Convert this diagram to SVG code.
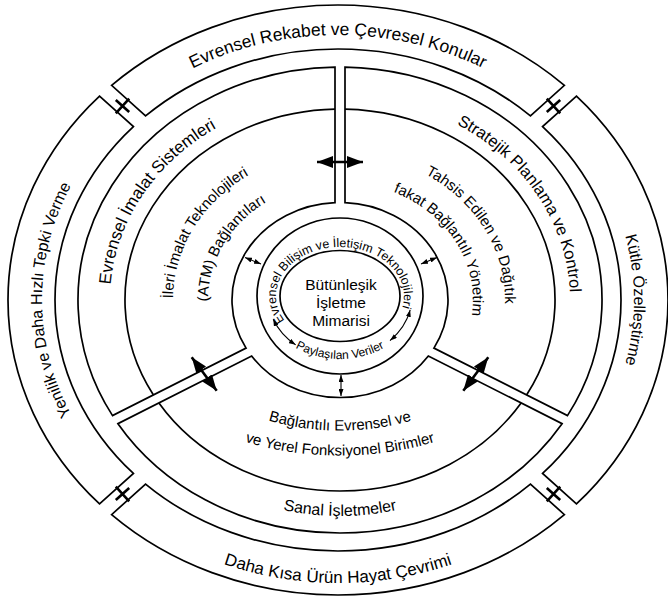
<svg xmlns="http://www.w3.org/2000/svg" width="668" height="601" viewBox="0 0 668 601">
<style>
.ln{fill:none;stroke:#000;stroke-width:1.7}
.seg{fill:#fff;stroke:#000;stroke-width:1.7;stroke-linejoin:miter}
.t{font-family:"Liberation Sans",Arial,sans-serif;fill:#000}
.plus{stroke:#000;stroke-width:2.6;fill:none}
.big{stroke:#000;stroke-width:2.6;fill:none;marker-start:url(#bh);marker-end:url(#bh)}
.sm{stroke:#000;stroke-width:1.1;fill:none;marker-start:url(#sh);marker-end:url(#sh)}
</style>
<defs>
<marker id="bh" markerUnits="userSpaceOnUse" markerWidth="16" markerHeight="12" refX="16" refY="6" orient="auto-start-reverse"><path d="M0,0 L16,6 L0,12 Z" fill="#000"/></marker>
<marker id="sh" markerUnits="userSpaceOnUse" markerWidth="7" markerHeight="5" refX="7" refY="2.5" orient="auto-start-reverse"><path d="M0,0 L7,2.5 L0,5 Z" fill="#000"/></marker>
<path id="pA_top" d="M126.6,112.6 A299,265 0 0 1 549.4,112.6"/>
<path id="pA_left" d="M128.7,486.7 A296,264 0 0 1 128.7,113.3"/>
<path id="pA_right" d="M547.3,113.3 A296,264 0 0 1 547.3,486.7"/>
<path id="pA_bot" d="M113.8,500.1 A317,283 0 0 0 562.2,500.1"/>
<path id="pB_left" d="M117.8,352.8 A230,204 0 0 1 280.5,103.0"/>
<path id="pB_right" d="M399.5,103.0 A230,204 0 0 1 562.2,352.8"/>
<path id="pB_bot" d="M167.5,452.7 A244,216 0 0 0 512.5,452.7"/>
<path id="pC_l1" d="M180.3,343.6 A167,149 0 0 1 291.2,157.5"/>
<path id="pC_l2" d="M214.5,336.5 A132,118 0 0 1 299.2,187.8"/>
<path id="pC_r1" d="M388.2,159.4 A165,147 0 0 1 497.8,343.0"/>
<path id="pC_r2" d="M376.7,186.6 A133,118 0 0 1 467.8,332.5"/>
<path id="pC_b1" d="M209.2,392.5 A185,130 0 0 0 470.8,392.5"/>
<path id="pC_b2" d="M177.4,410.2 A230,155 0 0 0 502.6,410.2"/>
<path id="pD_top" d="M284.57,320.5 A64,49 0 1 1 400.14,312.76"/>
<path id="pD_bot" d="M266.7,317.5 A78,63 0 0 0 413.3,317.5"/>
</defs>

<g id="ringA-top">
<path class="seg" d="M111.59,85.37 A330,295 0 0 1 564.41,85.37 L530.44,115.96 A283,251 0 0 0 145.56,115.96 Z"/>
<text class="t" font-size="17.5"><textPath href="#pA_top" startOffset="50%" text-anchor="middle">Evrensel Rekabet ve Çevresel Konular</textPath></text>
</g>
<g id="ringA-right">
<path class="seg" d="M576.45,96.06 A330,295 0 0 1 576.45,503.94 L542.57,473.44 A283,251 0 0 0 542.57,126.56 Z"/>
<text class="t" font-size="16"><textPath href="#pA_right" startOffset="50%" text-anchor="middle">Kütle Özelleştirme</textPath></text>
</g>
<g id="ringA-bottom">
<path class="seg" d="M564.41,514.63 A330,295 0 0 1 111.59,514.63 L145.56,484.04 A283,251 0 0 0 530.44,484.04 Z"/>
<text class="t" font-size="17"><textPath href="#pA_bot" startOffset="50%" text-anchor="middle">Daha Kısa Ürün Hayat Çevrimi</textPath></text>
</g>
<g id="ringA-left">
<path class="seg" d="M99.55,503.94 A330,295 0 0 1 99.55,96.06 L133.43,126.56 A283,251 0 0 0 133.43,473.44 Z"/>
<text class="t" font-size="16"><textPath href="#pA_left" startOffset="50%" text-anchor="middle">Yenilik ve Daha Hızlı Tepki Verme</textPath></text>
</g>

<g id="sector-left">
<path class="seg" d="M335,67.04 A262,233 0 0 0 112.53,415.63 L246.07,348.12 A108,97.5 0 0 1 335,202.6 Z"/>
<path class="ln" d="M335,109.05 A215,191 0 0 0 153.44,394.95"/>
<text class="t" font-size="17"><textPath href="#pB_left" startOffset="50%" text-anchor="middle">Evrensel İmalat Sistemleri</textPath></text>
<text class="t" font-size="15"><textPath href="#pC_l1" startOffset="50%" text-anchor="middle">İleri İmalat Teknolojileri</textPath></text>
<text class="t" font-size="15"><textPath href="#pC_l2" startOffset="50%" text-anchor="middle">(ATM) Bağlantıları</textPath></text>
</g>
<g id="sector-right">
<path class="seg" d="M345,67.04 A262,233 0 0 1 567.47,415.63 L433.93,348.12 A108,97.5 0 0 0 345,202.6 Z"/>
<path class="ln" d="M345,109.05 A215,191 0 0 1 526.56,394.95"/>
<text class="t" font-size="16.5"><textPath href="#pB_right" startOffset="50%" text-anchor="middle">Stratejik Planlama ve Kontrol</textPath></text>
<text class="t" font-size="15"><textPath href="#pC_r1" startOffset="50%" text-anchor="middle">Tahsis Edilen ve Dağıtık</textPath></text>
<text class="t" font-size="15"><textPath href="#pC_r2" startOffset="50%" text-anchor="middle">fakat Bağlantılı Yönetim</textPath></text>
</g>
<g id="sector-bottom">
<path class="seg" d="M117.94,423.65 A262,233 0 0 0 562.06,423.65 L428.36,356.05 A108,97.5 0 0 1 251.64,356.05 Z"/>
<path class="ln" d="M158.90,402.94 A215,191 0 0 0 521.10,402.94"/>
<text class="t" font-size="16"><textPath href="#pB_bot" startOffset="50%" text-anchor="middle">Sanal İşletmeler</textPath></text>
<text class="t" font-size="15"><textPath href="#pC_b1" startOffset="50%" text-anchor="middle">Bağlantılı Evrensel ve</textPath></text>
<text class="t" font-size="15"><textPath href="#pC_b2" startOffset="50%" text-anchor="middle">ve Yerel Fonksiyonel Birimler</textPath></text>
</g>

<g id="ring-ict">
<ellipse class="ln" cx="340" cy="296" rx="83" ry="78"/>
<text class="t" font-size="12.5"><textPath href="#pD_top">Evrensel</textPath></text>
<text class="t" font-size="12.5"><textPath href="#pD_top" startOffset="52.1">Bilişim ve İletişim</textPath></text>
<text class="t" font-size="12.5"><textPath href="#pD_top" startOffset="150.7">Teknolojileri</textPath></text>
<text class="t" font-size="12"><textPath href="#pD_bot" startOffset="50%" text-anchor="middle">Paylaşılan Veriler</textPath></text>
</g>
<g id="core">
<ellipse class="ln" cx="340" cy="296" rx="60" ry="45.5"/>
<text class="t" font-size="15.5" text-anchor="middle" x="341" y="290">Bütünleşik</text>
<text class="t" font-size="15.5" text-anchor="middle" x="341" y="308">İşletme</text>
<text class="t" font-size="15.5" text-anchor="middle" x="341" y="326">Mimarisi</text>
</g>

<g id="connectors">
<path class="plus" d="M115.8,113.4 L129.2,98.6 M115.8,100.0 L129.2,112.0"/>
<path class="plus" d="M560.2,113.4 L546.8,98.6 M560.2,100.0 L546.8,112.0"/>
<path class="plus" d="M115.8,486.6 L129.2,501.4 M115.8,500.0 L129.2,488.0"/>
<path class="plus" d="M560.2,486.6 L546.8,501.4 M560.2,500.0 L546.8,488.0"/>
<path class="big" d="M317,162 L363,162"/>
<path class="big" d="M191.7,357.3 L216.7,390.7"/>
<path class="big" d="M488.3,357.3 L463.3,390.7"/>
<path class="sm" d="M245,257.5 L261,264"/>
<path class="sm" d="M437,257.5 L421,264"/>
<path class="sm" d="M341,375 L341,396"/>
<path class="sm" d="M273.24,319.23 A72,62 0 0 0 295.67,344.86"/>
<path class="sm" d="M410.16,309.95 A72,62 0 0 1 390.02,340.6"/>
</g>
</svg>
